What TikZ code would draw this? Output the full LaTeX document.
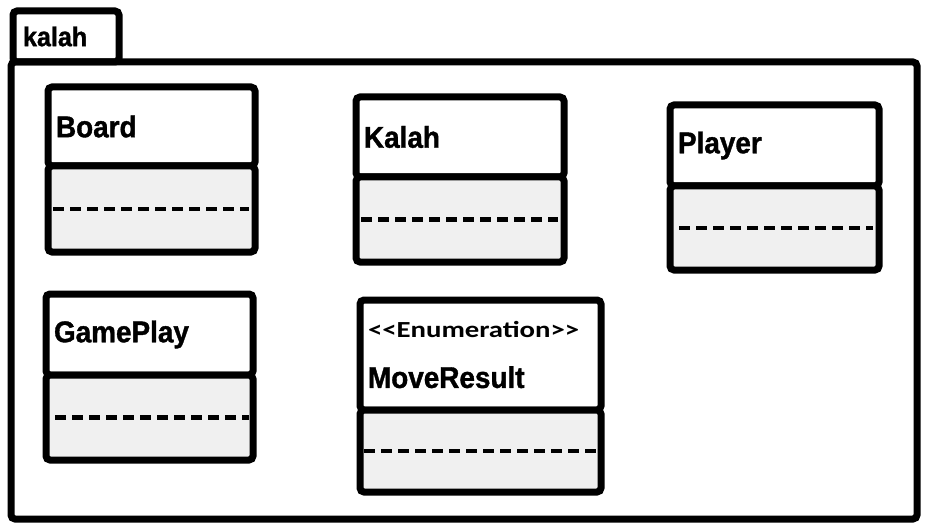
\documentclass[tikz,border=0pt]{standalone}
\usepackage{fontspec}
\setmainfont{Liberation Sans}[BoldFeatures={FakeStretch=0.93, FakeBold=1.2}]
\newfontfamily\stereofont[FakeStretch=1.25]{Carlito}
\usetikzlibrary{positioning}

\begin{document}
\begin{tikzpicture}[x=1pt, y=-1pt, font=\fontsize{30}{32}\selectfont\bfseries,
outline/.style={draw, line width=7pt, rounded corners=4pt, outer sep=0pt},
pkg/.style={outline, anchor=north west, minimum width=906pt, minimum height=457pt},
pkgtab/.style={outline, anchor=south west, minimum width=106pt, minimum height=51pt,
      inner xsep=10pt, text width=86pt, align=left, font=\fontsize{27}{28}\selectfont\bfseries},
head/.style 2 args={outline, fill=white, anchor=north west, inner xsep=8pt, inner ysep=0pt,
      text width=#1-16pt, minimum width=#1, minimum height=#2, align=left},
body/.style 2 args={outline, fill=gray!12, minimum width=#1, minimum height=#2},
attrs/.style={line width=4.5pt, dash pattern=on 11pt off 6pt},]
 \useasboundingbox (0,0) rectangle (925,529);

 \node[pkg] (frame) at (11,62) {};
 \node[pkgtab] (tab) at ([xshift=2pt]frame.north west) {kalah};

 \node[head={207pt}{79pt}] (board) at (48,87) {Board};
 \node[body={207pt}{86pt}, below=0pt of board] (boardattr) {};
 \node[head={208pt}{80pt}] (kalah) at (356,97) {Kalah};
 \node[body={208pt}{85pt}, below=0pt of kalah] (kalahattr) {};
 \node[head={209pt}{81pt}] (player) at (670,105) {Player};
 \node[body={209pt}{84pt}, below=0pt of player] (playerattr) {};
 \node[head={207pt}{81pt}] (gameplay) at (46,294) {GamePlay};
 \node[body={207pt}{85pt}, below=0pt of gameplay] (gameplayattr) {};
 \node[head={241pt}{110pt}] (moveresult) at (360,300)
      {{\stereofont\fontsize{23}{24}\selectfont <<Enumeration>>}\\[18pt]MoveResult};
 \node[body={241pt}{82pt}, below=0pt of moveresult] (moveresultattr) {};

 \draw[attrs] ([xshift=5pt]boardattr.west) -- ([xshift=-6pt]boardattr.east);
 \draw[attrs] ([xshift=5pt]kalahattr.west) -- ([xshift=-6pt]kalahattr.east);
 \draw[attrs] ([xshift=9pt]playerattr.west) -- ([xshift=-6pt]playerattr.east);
 \draw[attrs] ([xshift=9pt]gameplayattr.west) -- ([xshift=-4pt]gameplayattr.east);
 \draw[attrs] ([xshift=4pt]moveresultattr.west) -- ([xshift=-4pt]moveresultattr.east);
\end{tikzpicture}
\end{document}
